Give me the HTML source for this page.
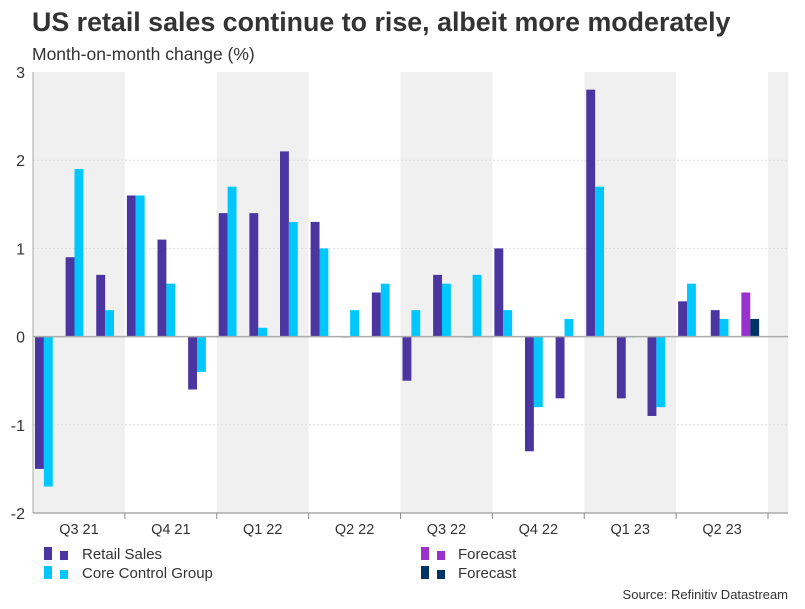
<!DOCTYPE html>
<html><head><meta charset="utf-8"><style>
body{margin:0;background:#fff;font-family:"Liberation Sans",Arial,sans-serif;}
svg text{font-family:"Liberation Sans",Arial,sans-serif;}
</style></head><body>
<svg id="chart" width="805" height="604" xmlns="http://www.w3.org/2000/svg">
<text x="32" y="31" font-size="26.8" font-weight="bold" fill="#333">US retail sales continue to rise, albeit more moderately</text>
<text x="32" y="60" font-size="17.5" fill="#333">Month-on-month change (%)</text>
<g id="bands"></g><g id="grid"></g><g id="bars"></g><g id="axes"></g>
<g>
<rect x="44" y="547" width="8" height="13" fill="#4b35a0"/><rect x="60" y="551" width="8" height="9" fill="#4b35a0"/>
<text x="82" y="559" font-size="15" fill="#333">Retail Sales</text>
<rect x="44" y="566" width="8" height="13" fill="#00c8ff"/><rect x="60" y="570" width="8" height="9" fill="#00c8ff"/>
<text x="82" y="578" font-size="15" fill="#333">Core Control Group</text>
<rect x="421" y="547" width="8" height="13" fill="#9932cc"/><rect x="437" y="551" width="8" height="9" fill="#9932cc"/>
<text x="458" y="559" font-size="15" fill="#333">Forecast</text>
<rect x="421" y="566" width="8" height="13" fill="#003366"/><rect x="437" y="570" width="8" height="9" fill="#003366"/>
<text x="458" y="578" font-size="15" fill="#333">Forecast</text>
</g>
<text x="788" y="599" font-size="13" fill="#333" text-anchor="end">Source: Refinitiv Datastream</text>
</svg>
<script>
const months = ["Jul21","Aug21","Sep21","Oct21","Nov21","Dec21","Jan22","Feb22","Mar22","Apr22","May22","Jun22","Jul22","Aug22","Sep22","Oct22","Nov22","Dec22","Jan23","Feb23","Mar23","Apr23","May23","Jun23"];
const retail = [-1.5,0.9,0.7,1.6,1.1,-0.6,1.4,1.4,2.1,1.3,0.0,0.5,-0.5,0.7,0.0,1.0,-1.3,-0.7,2.8,-0.7,-0.9,0.4,0.3,0.5];
const core = [-1.7,1.9,0.3,1.6,0.6,-0.4,1.7,0.1,1.3,1.0,0.3,0.6,0.3,0.6,0.7,0.3,-0.8,0.2,1.7,0.0,-0.8,0.6,0.2,0.2];
const forecastIdx = [23];
const quarters = ["Q3 21","Q4 21","Q1 22","Q2 22","Q3 22","Q4 22","Q1 23","Q2 23"];
const yTicks = [3,2,1,0,-1,-2];
const NS="http://www.w3.org/2000/svg";
const L=33,R=788,T=72,B=513,MW=(768-33)/24;
const yS=v=>T+(3-v)*(B-T)/5;
const xS=i=>L+i*MW;
function mk(tag,attrs,parent){const e=document.createElementNS(NS,tag);for(const k in attrs)e.setAttribute(k,attrs[k]);document.getElementById(parent).appendChild(e);return e;}
quarters.forEach((q,i)=>{if(i%2===0){const r=mk('rect',{x:xS(i*3),y:T,width:MW*3,height:B-T,fill:'#f0f0f0'},'bands');

}});
const rr=mk('rect',{x:xS(24),y:T,width:R-xS(24),height:B-T,fill:'#f0f0f0'},'bands');


yTicks.forEach(v=>{
 if(v!==0&&v!==-2&&v!==3){const g=mk('line',{x1:L,x2:R,y1:yS(v),y2:yS(v),stroke:'#ddd','stroke-dasharray':'2,2'},'grid');
 
 }
 const t=mk('text',{x:L-8,y:yS(v)+6,'font-size':16,fill:'#333','text-anchor':'end'},'axes');
 t.textContent=String(v);
 
 
});
const bw=MW*0.29;
months.forEach((m,i)=>{
 const f=forecastIdx.includes(i);
 [[retail[i],2,f?'#9932cc':'#4b35a0','bar-retail-'],[core[i],2+bw,f?'#003366':'#00c8ff','bar-core-']].forEach(([v,off,c,n])=>{
  const y0=yS(0),y1=yS(v);
  const b=mk('rect',{x:xS(i)+off+(i>=22?2:0),y:Math.min(y0,y1),width:bw,height:Math.max(Math.abs(y1-y0),0.8),fill:c},'bars');
  
  
 });
});
const z=mk('line',{x1:L,x2:R,y1:yS(0),y2:yS(0),stroke:'#aaa','stroke-width':1.5},'axes');


const yl=mk('line',{x1:L,x2:L,y1:T,y2:B,stroke:'#aaa'},'axes');


const xl=mk('line',{x1:L,x2:R,y1:B,y2:B,stroke:'#aaa','stroke-width':1.5},'axes');


quarters.forEach((q,i)=>{
 const tk=mk('line',{x1:xS((i+1)*3),x2:xS((i+1)*3),y1:B,y2:B+6,stroke:'#888'},'axes');
 
 
 const t=mk('text',{x:xS(i*3+1.5),y:B+21,'font-size':14.5,fill:'#333','text-anchor':'middle'},'axes');
 t.textContent=q;
 
 
});
</script>
</body></html>
